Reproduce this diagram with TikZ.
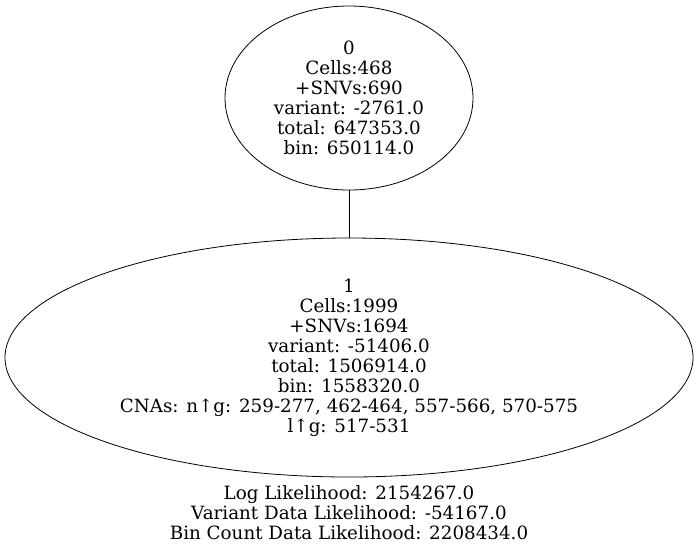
\documentclass[tikz,border=0pt]{standalone}
\usepackage{fontspec}
\setmainfont{DejaVu Serif}
\usetikzlibrary{shapes.geometric}
\begin{document}
\begin{tikzpicture}[x=1pt,y=-1pt,
  treenode/.style={draw, ellipse, inner sep=0pt, line width=0.8pt,
    align=center, font=\fontsize{18.3}{20}\selectfont},
  infotext/.style={align=center, font=\fontsize{18.3}{20}\selectfont}]
  \useasboundingbox (0,0) rectangle (699,550);
  \node[treenode, minimum width=248pt, minimum height=184pt] (n0) at (349,98)
    {0\\Cells:468\\+SNVs:690\\variant: -2761.0\\total: 647353.0\\bin: 650114.0};
  \node[treenode, minimum width=688pt, minimum height=239pt] (n1) at (349,357.5)
    {1\\Cells:1999\\+SNVs:1694\\variant: -51406.0\\total: 1506914.0\\bin: 1558320.0\\CNAs: n↑g: 259-277, 462-464, 557-566, 570-575\\l↑g: 517-531};
  \node[infotext] (ll) at (349,513)
    {Log Likelihood: 2154267.0\\Variant Data Likelihood: -54167.0\\Bin Count Data Likelihood: 2208434.0};
  \draw[line width=0.8pt] (n0) -- (n1);
\end{tikzpicture}
\end{document}
